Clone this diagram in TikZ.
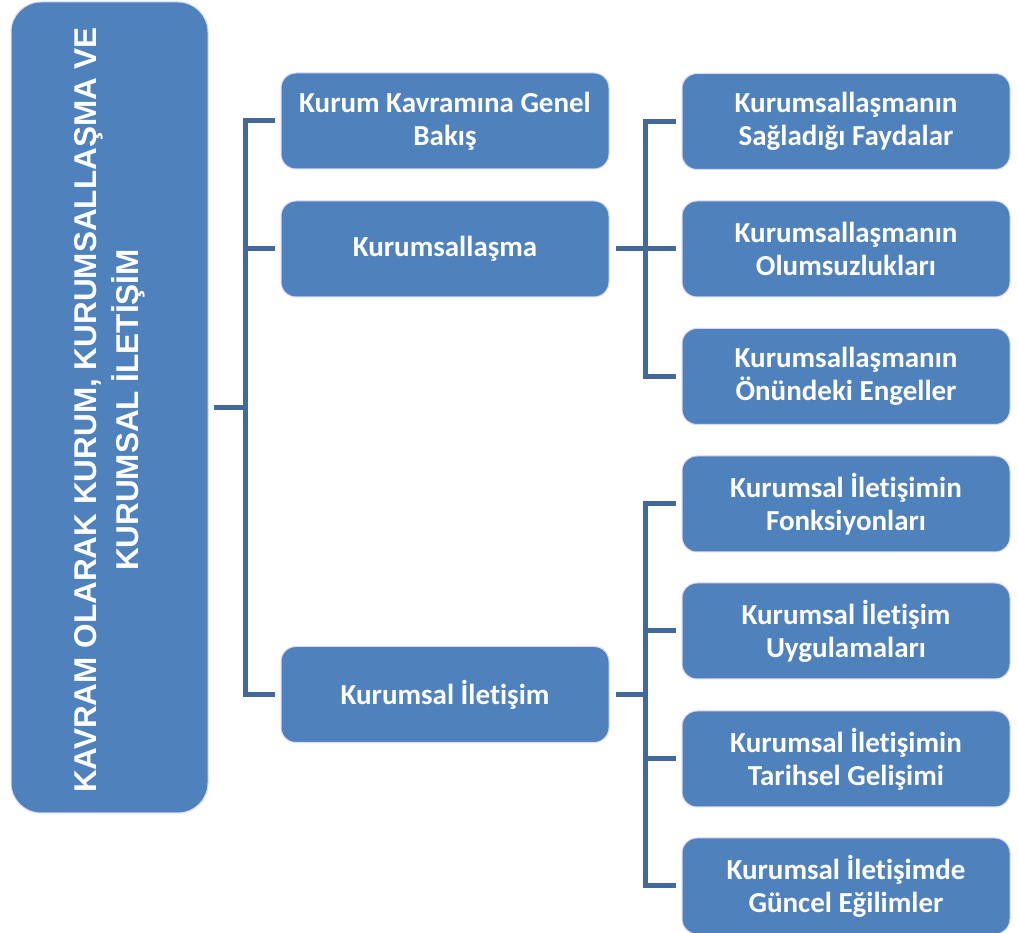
\documentclass[tikz,border=0pt]{standalone}
\usepackage{fontspec}
\setmainfont{Carlito}[RawFeature=-liga]
\newfontfamily\rootfont{Liberation Sans}
\begin{document}
\begin{tikzpicture}[x=1pt,y=1pt,
  boxfill/.style={fill={rgb,255:red,79;green,129;blue,189}, draw=white!85!blue, line width=1pt},
  rootbox/.style={boxfill, rounded corners=30pt, minimum width=197pt, minimum height=811pt, inner sep=0pt},
  lvbox/.style={boxfill, rounded corners=15pt, minimum width=328pt, minimum height=96pt, inner sep=2pt,
    text=white, align=center, font=\fontsize{29}{33}\selectfont\bfseries},
  conn/.style={draw={rgb,255:red,66;green,104;blue,156}, line width=5pt, line join=miter}]
\useasboundingbox (0,0) rectangle (1018,933);
% root
\node[rootbox] (root) at (109.5,525.5) {};
\node[rotate=90, align=center, text=white, font=\rootfont\fontsize{31.5}{42}\selectfont\bfseries] (roottext) at (110,523)
  {KAVRAM OLARAK KURUM, KURUMSALLAŞMA VE\\KURUMSAL İLETİŞİM};
% level 1
\node[lvbox] (a1) at (445,812) {Kurum Kavramına Genel\\Bakış};
\node[lvbox] (a2) at (445,684) {Kurumsallaşma};
\node[lvbox] (a3) at (445,238.5) {Kurumsal İletişim};
% level 2
\node[lvbox] (b1) at (846,811.5) {Kurumsallaşmanın\\Sağladığı Faydalar};
\node[lvbox] (b2) at (846,684) {Kurumsallaşmanın\\Olumsuzlukları};
\node[lvbox] (b3) at (846,556.5) {Kurumsallaşmanın\\Önündeki Engeller};
\node[lvbox] (c1) at (846,429) {Kurumsal İletişimin\\Fonksiyonları};
\node[lvbox] (c2) at (846,302) {Kurumsal İletişim\\Uygulamaları};
\node[lvbox] (c3) at (846,174) {Kurumsal İletişimin\\Tarihsel Gelişimi};
\node[lvbox] (c4) at (846,47) {Kurumsal İletişimde\\Güncel Eğilimler};
% buses
\coordinate (busA) at (245,0);
\coordinate (busB) at (645,0);
\draw[conn] ([xshift=5pt]root.east) -- (root.east -| busA);
\draw[conn] ([xshift=-6pt]a1.west) -- (a1.west -| busA) -- (a3.west -| busA) -- ([xshift=-6pt]a3.west);
\draw[conn] ([xshift=-6pt]a2.west) -- (a2.west -| busA);
\draw[conn] ([xshift=6pt]a2.east) -- (a2.east -| busB);
\draw[conn] ([xshift=-6pt]b1.west) -- (b1.west -| busB) -- (b3.west -| busB) -- ([xshift=-6pt]b3.west);
\draw[conn] ([xshift=-6pt]b2.west) -- (b2.west -| busB);
\draw[conn] ([xshift=6pt]a3.east) -- (a3.east -| busB);
\draw[conn] ([xshift=-6pt]c1.west) -- (c1.west -| busB) -- (c4.west -| busB) -- ([xshift=-6pt]c4.west);
\draw[conn] ([xshift=-6pt]c2.west) -- (c2.west -| busB);
\draw[conn] ([xshift=-6pt]c3.west) -- (c3.west -| busB);
\end{tikzpicture}
\end{document}
